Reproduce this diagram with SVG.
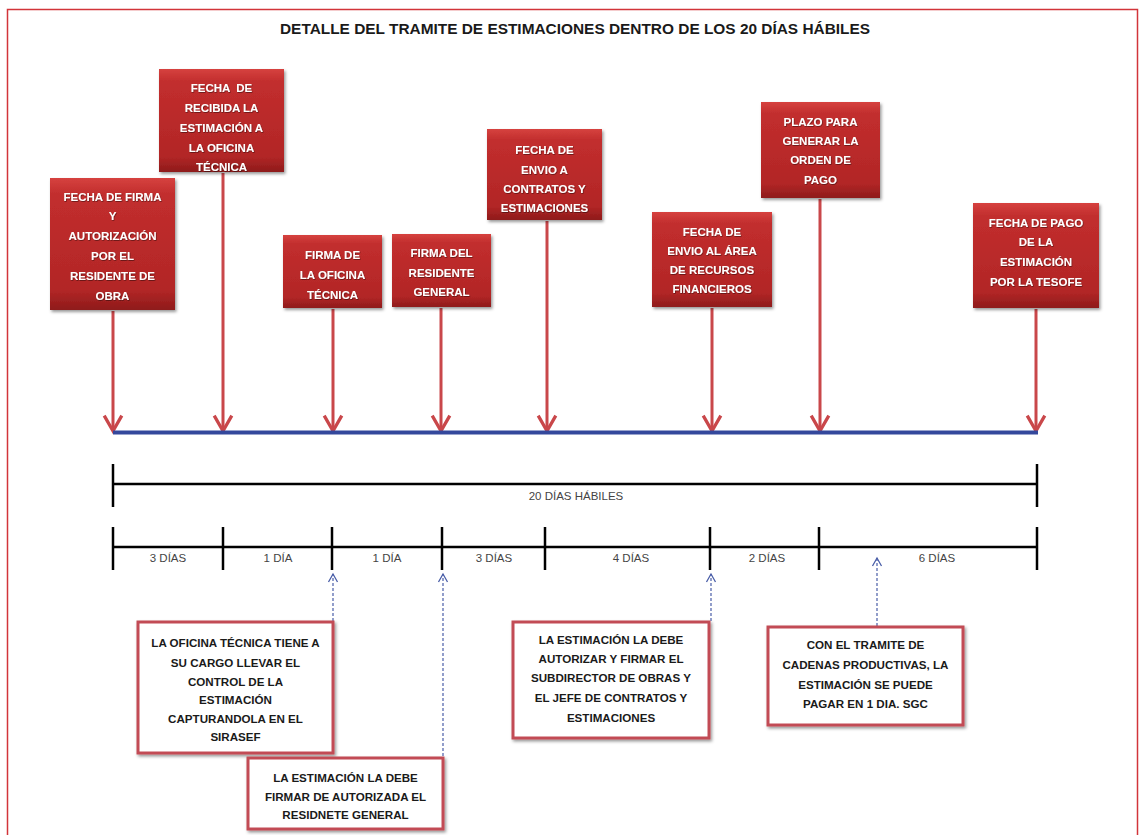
<svg xmlns="http://www.w3.org/2000/svg" width="1143" height="835" viewBox="0 0 1143 835">
<defs>
<linearGradient id="redg" x1="0" y1="0" x2="0" y2="1">
<stop offset="0" stop-color="#d6423f"/>
<stop offset="0.12" stop-color="#c22e2e"/>
<stop offset="0.85" stop-color="#b22626"/>
<stop offset="1" stop-color="#8e1b1b"/>
</linearGradient>
<filter id="sh" x="-10%" y="-10%" width="125%" height="125%">
<feDropShadow dx="1.5" dy="2" stdDeviation="1.5" flood-color="#000" flood-opacity="0.4"/>
</filter>
<filter id="tsh" x="-5%" y="-20%" width="110%" height="140%">
<feDropShadow dx="0.6" dy="0.8" stdDeviation="0.4" flood-color="#000" flood-opacity="0.5"/>
</filter>
<marker id="ra" markerUnits="userSpaceOnUse" markerWidth="22" markerHeight="22" viewBox="0 0 20 20" refX="16" refY="10" orient="auto">
<path d="M2,2 L16,10 L2,18" fill="none" stroke="#c9474a" stroke-width="3" stroke-linejoin="miter"/>
</marker>
<marker id="ba" markerUnits="userSpaceOnUse" markerWidth="12" markerHeight="12" viewBox="0 0 12 12" refX="10" refY="6" orient="auto">
<path d="M2,1.5 L10,6 L2,10.5" fill="none" stroke="#4a5ea8" stroke-width="1.3"/>
</marker>
</defs>
<style>
.rb{fill:url(#redg);filter:url(#sh)}
.rt{font-family:"Liberation Sans",Arial,sans-serif;font-weight:bold;font-size:11.5px;fill:#ffffff;text-anchor:middle;filter:url(#tsh)}
.nb{fill:#ffffff;stroke:#c24b55;stroke-width:3;filter:url(#sh)}
.nt{font-family:"Liberation Sans",Arial,sans-serif;font-weight:bold;font-size:11.6px;fill:#1a1a1a;text-anchor:middle}
.lb{font-family:"Liberation Sans",Arial,sans-serif;font-size:11.5px;fill:#444;text-anchor:middle}
.ra{stroke:#c9474a;stroke-width:3;fill:none;marker-end:url(#ra)}
.da{stroke:#4a5ea8;stroke-width:1.2;stroke-dasharray:3,2;fill:none;marker-end:url(#ba)}
.bk{stroke:#000;stroke-width:2.5;fill:none}
</style>
<rect x="0" y="0" width="1143" height="835" fill="#ffffff"/>
<rect x="7.5" y="9.5" width="1130" height="830" fill="none" stroke="#d2343a" stroke-width="1.5"/>
<text x="575" y="34" font-family="'Liberation Sans',Arial,sans-serif" font-weight="bold" font-size="15.5" fill="#1a1a1a" text-anchor="middle" textLength="590" lengthAdjust="spacingAndGlyphs">DETALLE DEL TRAMITE DE ESTIMACIONES DENTRO DE LOS 20 DÍAS HÁBILES</text>

<g id="connectors">
<line class="ra" x1="113" y1="311" x2="113" y2="431"/>
<line class="ra" x1="223" y1="173" x2="223" y2="431"/>
<line class="ra" x1="333" y1="309" x2="333" y2="431"/>
<line class="ra" x1="441" y1="308" x2="441" y2="431"/>
<line class="ra" x1="547" y1="221" x2="547" y2="431"/>
<line class="ra" x1="712" y1="308" x2="712" y2="431"/>
<line class="ra" x1="820" y1="199" x2="820" y2="431"/>
<line class="ra" x1="1036" y1="309" x2="1036" y2="431"/>
<line x1="113" y1="432.5" x2="1038" y2="432.5" stroke="#34489c" stroke-width="4"/>
<path class="da" d="M333,621 L333,574"/>
<path class="da" d="M443,756 L443,574"/>
<path class="da" d="M711,621 L711,574"/>
<path class="da" d="M877,626 L877,558"/>
</g>

<g id="scale">
<line class="bk" x1="113" y1="484" x2="1037" y2="484"/>
<line class="bk" x1="113" y1="464" x2="113" y2="507"/>
<line class="bk" x1="1037" y1="464" x2="1037" y2="507"/>
<text class="lb" x="576" y="500">20 DÍAS HÁBILES</text>
<line class="bk" x1="113" y1="547" x2="1037" y2="547"/>
<line class="bk" x1="113" y1="527" x2="113" y2="570"/>
<line class="bk" x1="223" y1="527" x2="223" y2="570"/>
<line class="bk" x1="332" y1="527" x2="332" y2="570"/>
<line class="bk" x1="442" y1="527" x2="442" y2="570"/>
<line class="bk" x1="545" y1="527" x2="545" y2="570"/>
<line class="bk" x1="710" y1="527" x2="710" y2="570"/>
<line class="bk" x1="819" y1="527" x2="819" y2="570"/>
<line class="bk" x1="1037" y1="527" x2="1037" y2="570"/>
<text class="lb" x="168" y="562">3 DÍAS</text>
<text class="lb" x="278" y="562">1 DÍA</text>
<text class="lb" x="387" y="562">1 DÍA</text>
<text class="lb" x="494" y="562">3 DÍAS</text>
<text class="lb" x="631" y="562">4 DÍAS</text>
<text class="lb" x="767" y="562">2 DÍAS</text>
<text class="lb" x="937" y="562">6 DÍAS</text>
</g>

<g id="n1">
<rect class="rb" x="50" y="178" width="125" height="132"/>
<text class="rt" x="112.5" y="201">FECHA DE FIRMA</text>
<text class="rt" x="112.5" y="220">Y</text>
<text class="rt" x="112.5" y="240">AUTORIZACIÓN</text>
<text class="rt" x="112.5" y="260">POR EL</text>
<text class="rt" x="112.5" y="280">RESIDENTE DE</text>
<text class="rt" x="112.5" y="300">OBRA</text>
</g>
<g id="n2">
<rect class="rb" x="159" y="69" width="125" height="103"/>
<text class="rt" x="221.5" y="92" xml:space="preserve">FECHA  DE</text>
<text class="rt" x="221.5" y="112">RECIBIDA LA</text>
<text class="rt" x="221.5" y="132">ESTIMACIÓN A</text>
<text class="rt" x="221.5" y="152">LA OFICINA</text>
<text class="rt" x="221.5" y="171">TÉCNICA</text>
</g>
<g id="n3">
<rect class="rb" x="283" y="235" width="99" height="73"/>
<text class="rt" x="332.5" y="259">FIRMA DE</text>
<text class="rt" x="332.5" y="279">LA OFICINA</text>
<text class="rt" x="332.5" y="299">TÉCNICA</text>
</g>
<g id="n4">
<rect class="rb" x="392" y="234" width="99" height="73"/>
<text class="rt" x="441.5" y="257">FIRMA DEL</text>
<text class="rt" x="441.5" y="277">RESIDENTE</text>
<text class="rt" x="441.5" y="296">GENERAL</text>
</g>
<g id="n5">
<rect class="rb" x="487" y="129" width="115" height="91"/>
<text class="rt" x="544.5" y="154">FECHA DE</text>
<text class="rt" x="544.5" y="174">ENVIO A</text>
<text class="rt" x="544.5" y="193">CONTRATOS Y</text>
<text class="rt" x="544.5" y="212">ESTIMACIONES</text>
</g>
<g id="n6">
<rect class="rb" x="652" y="212" width="120" height="95"/>
<text class="rt" x="712" y="236">FECHA DE</text>
<text class="rt" x="712" y="255">ENVIO AL ÁREA</text>
<text class="rt" x="712" y="274">DE RECURSOS</text>
<text class="rt" x="712" y="293">FINANCIEROS</text>
</g>
<g id="n7">
<rect class="rb" x="761" y="102" width="119" height="96"/>
<text class="rt" x="820.5" y="126">PLAZO PARA</text>
<text class="rt" x="820.5" y="145">GENERAR LA</text>
<text class="rt" x="820.5" y="164">ORDEN DE</text>
<text class="rt" x="820.5" y="184">PAGO</text>
</g>
<g id="n8">
<rect class="rb" x="973" y="203" width="126" height="105"/>
<text class="rt" x="1036" y="227">FECHA DE PAGO</text>
<text class="rt" x="1036" y="246">DE LA</text>
<text class="rt" x="1036" y="266">ESTIMACIÓN</text>
<text class="rt" x="1036" y="286">POR LA TESOFE</text>
</g>

<g id="note1">
<rect class="nb" x="138" y="622" width="195" height="131"/>
<text class="nt" x="235.5" y="647">LA OFICINA TÉCNICA TIENE A</text>
<text class="nt" x="235.5" y="667">SU CARGO LLEVAR EL</text>
<text class="nt" x="235.5" y="686">CONTROL DE LA</text>
<text class="nt" x="235.5" y="704">ESTIMACIÓN</text>
<text class="nt" x="235.5" y="723">CAPTURANDOLA EN EL</text>
<text class="nt" x="235.5" y="741">SIRASEF</text>
</g>
<g id="note2">
<rect class="nb" x="248" y="758" width="195" height="71"/>
<text class="nt" x="345.5" y="782">LA ESTIMACIÓN LA DEBE</text>
<text class="nt" x="345.5" y="801">FIRMAR DE AUTORIZADA EL</text>
<text class="nt" x="345.5" y="819">RESIDNETE GENERAL</text>
</g>
<g id="note3">
<rect class="nb" x="513" y="622" width="196" height="116"/>
<text class="nt" x="611" y="644">LA ESTIMACIÓN LA DEBE</text>
<text class="nt" x="611" y="663">AUTORIZAR Y FIRMAR EL</text>
<text class="nt" x="611" y="682">SUBDIRECTOR DE OBRAS Y</text>
<text class="nt" x="611" y="702">EL JEFE DE CONTRATOS Y</text>
<text class="nt" x="611" y="722">ESTIMACIONES</text>
</g>
<g id="note4">
<rect class="nb" x="768" y="627" width="195" height="98"/>
<text class="nt" x="865.5" y="649">CON EL TRAMITE DE</text>
<text class="nt" x="865.5" y="669">CADENAS PRODUCTIVAS, LA</text>
<text class="nt" x="865.5" y="689">ESTIMACIÓN SE PUEDE</text>
<text class="nt" x="865.5" y="708">PAGAR EN 1 DIA. SGC</text>
</g>
</svg>
